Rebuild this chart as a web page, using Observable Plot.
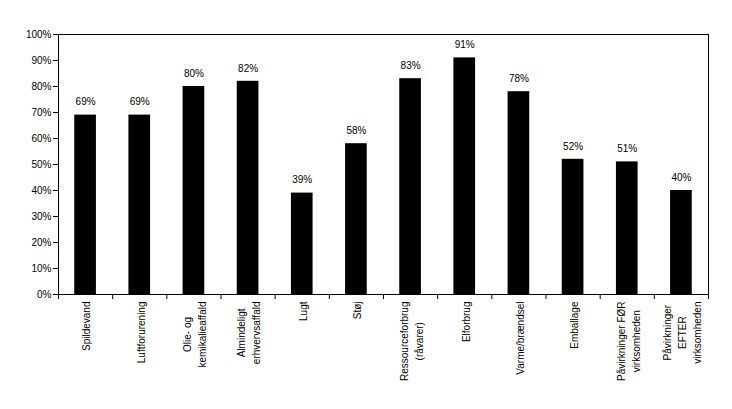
<!DOCTYPE html>
<html>
<head>
<meta charset="utf-8">
<script src="https://cdn.jsdelivr.net/npm/d3@7"></script>
<script src="https://cdn.jsdelivr.net/npm/@observablehq/plot@0.6"></script>
<style>
  html, body { margin: 0; padding: 0; background: white; }
</style>
</head>
<body>
<div id="chart"></div>
<script>
const categories = [
  "Spildevand",
  "Luftforurening",
  "Olie- og\nkemikalieaffald",
  "Almindeligt\nerhvervsaffald",
  "Lugt",
  "Støj",
  "Ressourceforbrug\n(råvarer)",
  "Elforbrug",
  "Varme/brændsel",
  "Emballage",
  "Påvirkninger FØR\nvirksomheden",
  "Påvirkninger\nEFTER\nvirksomheden"
];
const values = [69, 69, 80, 82, 39, 58, 83, 91, 78, 52, 51, 40];
const yTicks = [0, 10, 20, 30, 40, 50, 60, 70, 80, 90, 100];

const data = categories.map((c, i) => ({category: c, value: values[i]}));

const W = 732, H = 409, ML = 58, MR = 24, MT = 34, MB = 115;
const step = (W - ML - MR) / categories.length;
const font = "'Liberation Sans', Arial, sans-serif";

const chart = Plot.plot({
  width: W,
  height: H,
  marginLeft: ML,
  marginRight: MR,
  marginTop: MT,
  marginBottom: MB,
  style: {fontFamily: font, fontSize: "10px", color: "black", background: "white"},
  x: {domain: categories, paddingInner: 0.6, paddingOuter: 0.3, round: false, label: null},
  y: {domain: [0, 100], label: null},
  marks: [
    Plot.barY(data, {x: "category", y: "value", fill: "black"}),
    Plot.text(data, {x: "category", y: "value", text: d => d.value + "%", dy: -13, fontSize: 10, fill: "black"}),
    Plot.axisY({ticks: yTicks, tickFormat: d => d + "%", tickSize: 5, tickPadding: 2, fontSize: 10, label: null, stroke: "black", fill: "black"}),
    Plot.axisX({ticks: categories, tickSize: 5, tickFormat: () => "", dx: -step / 2, label: null, stroke: "black"}),
    Plot.axisX({ticks: [categories[categories.length - 1]], tickSize: 5, tickFormat: () => "", dx: step / 2, label: null, stroke: "black"}),
    Plot.text(categories, {x: d => d, frameAnchor: "bottom", rotate: -90, textAnchor: "end", lineAnchor: "middle", dy: 7, lineHeight: 1.5, fontSize: 10, fill: "black"}),
    Plot.frame({stroke: "black"})
  ]
});

document.getElementById("chart").appendChild(chart);

// center shorter lines of multi-line labels relative to the longest line
chart.querySelectorAll("text").forEach(t => {
  const spans = Array.from(t.querySelectorAll("tspan"));
  if (spans.length > 1) {
    const lens = spans.map(s => s.getComputedTextLength());
    const max = Math.max(...lens);
    spans.forEach((s, i) => s.setAttribute("x", -(max - lens[i]) / 2));
  }
});
</script>
</body>
</html>
